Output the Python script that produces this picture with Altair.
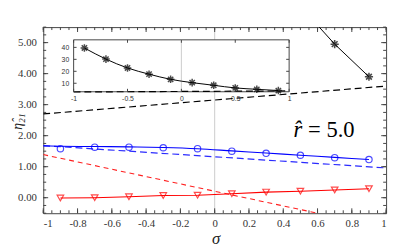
import altair as alt
import pandas as pd

# ---------------- data ----------------
sigma_pts = [-0.9, -0.7, -0.5, -0.3, -0.1, 0.1, 0.3, 0.5, 0.7, 0.9]
star_vals = [39.5, 30.2, 22.8, 17.6, 13.3, 10.5, 8.3, 6.1, 4.95, 3.9]
circle_vals = [1.58, 1.63, 1.63, 1.61, 1.58, 1.50, 1.43, 1.37, 1.29, 1.23]
tri_vals = [-0.01, 0.0, 0.03, 0.07, 0.08, 0.13, 0.18, 0.21, 0.25, 0.29]

# visible part of the black curve in the main panel (enters from the top edge)
main_black_x = [0.61, 0.7, 0.9]
main_black_y = [5.5, 4.95, 3.9]

blue_curve_x = [-1.0, -0.9, -0.7, -0.5, -0.3, -0.1, 0.1, 0.3, 0.5, 0.7, 0.9]
blue_curve_y = [1.67, 1.66, 1.65, 1.64, 1.62, 1.58, 1.51, 1.44, 1.37, 1.30, 1.23]

black_dash_x = [-1.0, 1.0]
black_dash_y = [2.70, 3.60]
blue_dash_x = [-1.0, 0.0, 1.0]
blue_dash_y = [1.68, 1.32, 0.96]
red_dash_x = [-1.0, 0.6]
red_dash_y = [1.39, -0.5]

x_major = [-1, -0.8, -0.6, -0.4, -0.2, 0, 0.2, 0.4, 0.6, 0.8, 1]
x_minor = [round(-1 + 0.05 * i, 2) for i in range(41)]
y_major = [0, 1, 2, 3, 4, 5]
y_minor = [round(-0.5 + 0.25 * i, 2) for i in range(25)]

inset_x_ticks = [-1, -0.5, 0, 0.5, 1]
inset_y_ticks = [10, 20, 30, 40]
inset_xdom = [-1, 1]
inset_ydom = [2.9, 46.3]

W, H = 350, 190
SERIF = "Liberation Serif"
SANS = "Liberation Sans"
FRAME = "#444444"

# inset box placement inside the plot area (pixels)
IX0, IX1, IY0, IY1 = 31, 251, 66, 13

# ---------------- main panel ----------------
xs = alt.Scale(domain=[-1, 1], nice=False, zero=False)
ys = alt.Scale(domain=[-0.5, 5.5], nice=False, zero=False)

x_axis = alt.Axis(values=x_major, labelExpr="toString(datum.value)", ticks=False,
                  domain=False, grid=False, labelFont=SERIF, labelFontSize=11,
                  labelColor="#333", labelPadding=5, title="σ", titleFont=SERIF,
                  titleFontSize=17, titleFontStyle="italic", titleFontWeight="normal",
                  titleX=176, titleY=26, titleAlign="center", titleBaseline="middle",
                  titleColor="#222")
y_axis = alt.Axis(values=y_major, format=".2f", ticks=False, domain=False, grid=False,
                  labelFont=SERIF, labelFontSize=11, labelColor="#333", labelPadding=7,
                  title="η̂₂₁", titleFont=SERIF, titleFontSize=14, titleFontStyle="italic",
                  titleFontWeight="normal", titleAngle=270, titleX=-26, titleY=96,
                  titleAlign="center", titleBaseline="middle", titleColor="#222")

X = alt.X("x:Q", scale=xs, axis=x_axis)
Y = alt.Y("y:Q", scale=ys, axis=y_axis)


def df(xv, yv):
    return pd.DataFrame({"x": xv, "y": yv})


zero_line = alt.Chart(pd.DataFrame({"x": [0]})).mark_rule(color="#cccccc", strokeWidth=1).encode(x=X)

def line(d, color, dash=None, width=1.0, interp="linear"):
    kw = dict(color=color, strokeWidth=width, clip=True, interpolate=interp)
    if dash:
        kw["strokeDash"] = dash
    return alt.Chart(d).mark_line(**kw).encode(x=X, y=Y)

black_dash = line(df(black_dash_x, black_dash_y), "black", [7, 4], 1.2)
blue_dash = line(df(blue_dash_x, blue_dash_y), "#2a2aff", [7, 4], 1.2)
red_dash = line(df(red_dash_x, red_dash_y), "#ff2020", [5, 4], 1.1)
blue_solid = line(df(blue_curve_x, blue_curve_y), "#0000ff", None, 1.1, "monotone")
red_solid = line(df(sigma_pts, tri_vals), "#ff0000", None, 1.1)
black_solid = line(df(main_black_x, main_black_y), "black", None, 1.0)

STAR = "M0,-1L0,1M-1,0L1,0M-0.7,-0.7L0.7,0.7M-0.7,0.7L0.7,-0.7"

circles = alt.Chart(df(sigma_pts, circle_vals)).mark_point(
    shape="circle", filled=False, color="#0000ff", size=42, strokeWidth=1.2
).encode(x=X, y=Y)
triangles = alt.Chart(df(sigma_pts, tri_vals)).mark_point(
    shape="triangle-down", filled=False, color="#ff0000", size=45, strokeWidth=1.2
).encode(x=X, y=Y)
stars_main = alt.Chart(df(sigma_pts, star_vals)).transform_filter("datum.y <= 5.5").mark_point(
    shape=STAR, filled=False, color="black", size=70, strokeWidth=1.6
).encode(x=X, y=Y)

# inward ticks
def xticks(vals, length):
    d = pd.DataFrame({"x": vals})
    b = alt.Chart(d).mark_rule(color=FRAME, strokeWidth=1).encode(
        x=X, y=alt.value(H), y2=alt.value(H - length))
    t = alt.Chart(d).mark_rule(color=FRAME, strokeWidth=1).encode(
        x=X, y=alt.value(0), y2=alt.value(length))
    return b + t

def yticks(vals, length):
    d = pd.DataFrame({"y": vals})
    l = alt.Chart(d).mark_rule(color=FRAME, strokeWidth=1).encode(
        y=Y, x=alt.value(0), x2=alt.value(length))
    r = alt.Chart(d).mark_rule(color=FRAME, strokeWidth=1).encode(
        y=Y, x=alt.value(W), x2=alt.value(W - length))
    return l + r

r_hat = alt.Chart(pd.DataFrame({"x": [0.46], "y": [1.96], "t": ["r̂"]})).mark_text(
    font=SERIF, fontSize=23, fontStyle="italic", align="left", baseline="alphabetic", color="black"
).encode(x=X, y=Y, text="t:N")
r_val = alt.Chart(pd.DataFrame({"x": [0.545], "y": [1.96], "t": ["= 5.0"]})).mark_text(
    font=SERIF, fontSize=23, align="left", baseline="alphabetic", color="black"
).encode(x=X, y=Y, text="t:N")

main = alt.layer(
    zero_line, black_dash, blue_dash, red_dash, blue_solid, red_solid, black_solid,
    circles, triangles, stars_main,
    xticks(x_minor, 3), xticks(x_major, 5), yticks(y_minor, 3), yticks(y_major, 5),
    r_hat, r_val,
)

# ---------------- inset ----------------
ix_per_px = (inset_xdom[1] - inset_xdom[0]) / (IX1 - IX0)
iy_per_px = (inset_ydom[1] - inset_ydom[0]) / (IY0 - IY1)
ixs = alt.Scale(domain=[inset_xdom[0] - IX0 * ix_per_px, inset_xdom[1] + (W - IX1) * ix_per_px],
                nice=False, zero=False)
iys = alt.Scale(domain=[inset_ydom[0] - (H - IY0) * iy_per_px, inset_ydom[1] + IY1 * iy_per_px],
                nice=False, zero=False)
ix_axis = alt.Axis(orient="bottom", offset=-(H - IY0), values=inset_x_ticks,
                   labelExpr="toString(datum.value)", ticks=False, domain=False, grid=False,
                   labelFont=SANS, labelFontSize=7, labelColor="#333", labelPadding=3, title=None)
iy_axis = alt.Axis(orient="left", offset=-IX0, values=inset_y_ticks, ticks=False,
                   domain=False, grid=False, labelFont=SANS, labelFontSize=7,
                   labelColor="#333", labelPadding=5, title=None)
IX = alt.X("x:Q", scale=ixs, axis=ix_axis)
IY = alt.Y("y:Q", scale=iys, axis=iy_axis)

inset_box = alt.Chart(pd.DataFrame({"x": [inset_xdom[0]], "x2": [inset_xdom[1]],
                                    "y": [inset_ydom[0]], "y2": [inset_ydom[1]]})).mark_rect(
    fill="white", stroke=FRAME, strokeWidth=1
).encode(x=IX, x2="x2:Q", y=IY, y2="y2:Q")

inset_zero = alt.Chart(pd.DataFrame({"x": [0], "y": [inset_ydom[0]], "y2": [inset_ydom[1]]})).mark_rule(
    color="#cccccc", strokeWidth=1).encode(x=IX, y=IY, y2="y2:Q")

inset_dash = alt.Chart(df(black_dash_x, black_dash_y)).mark_line(
    color="black", strokeWidth=1.2, strokeDash=[7, 4]).encode(x=IX, y=IY)
inset_line = alt.Chart(df(sigma_pts, star_vals)).mark_line(
    color="black", strokeWidth=1.0, interpolate="monotone").encode(x=IX, y=IY)
inset_stars = alt.Chart(df(sigma_pts, star_vals)).mark_point(
    shape=STAR, filled=False, color="black", size=60, strokeWidth=1.5).encode(x=IX, y=IY)

def ixticks(vals, length=3):
    d = pd.DataFrame({"x": vals})
    b = alt.Chart(d).mark_rule(color=FRAME).encode(x=IX, y=alt.value(IY0), y2=alt.value(IY0 - length))
    t = alt.Chart(d).mark_rule(color=FRAME).encode(x=IX, y=alt.value(IY1), y2=alt.value(IY1 + length))
    return b + t

def iyticks(vals, length=3):
    d = pd.DataFrame({"y": vals})
    l = alt.Chart(d).mark_rule(color=FRAME).encode(y=IY, x=alt.value(IX0), x2=alt.value(IX0 + length))
    r = alt.Chart(d).mark_rule(color=FRAME).encode(y=IY, x=alt.value(IX1), x2=alt.value(IX1 - length))
    return l + r

inset = alt.layer(inset_box, inset_zero, inset_dash, inset_line, inset_stars,
                  ixticks(inset_x_ticks), iyticks(inset_y_ticks))

chart = alt.layer(main, inset).resolve_scale(x="independent", y="independent").properties(
    width=W, height=H, autosize="none", background="white",
    padding={"left": 36, "top": 17, "right": 5, "bottom": 33},
).configure_view(stroke=FRAME, strokeWidth=1)

chart.save("out.html", embed_options={"renderer": "svg", "actions": False})
